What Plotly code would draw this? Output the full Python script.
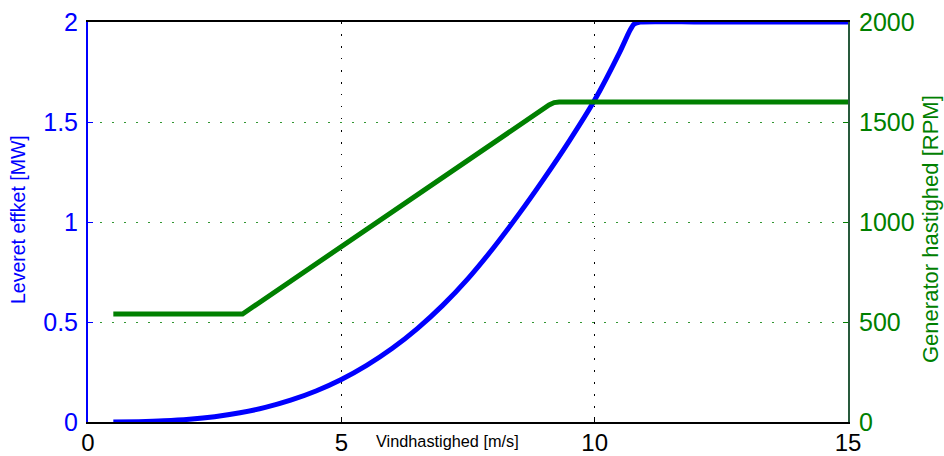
import plotly.graph_objects as go

wind_power = [0.5, 1, 1.5, 2, 2.5, 3, 3.5, 4, 4.5, 5, 5.5, 6, 6.5, 7, 7.5, 8, 8.5, 9, 9.5, 10, 10.5, 10.7, 10.78, 10.9, 12, 13, 14, 15]
power_mw = [0.0002, 0.0017, 0.0057, 0.0136, 0.0266, 0.046, 0.073, 0.109, 0.155, 0.2125, 0.283, 0.367, 0.467, 0.583, 0.717, 0.87, 1.038, 1.217, 1.406, 1.61, 1.852, 1.96, 1.99, 2.0, 2.0, 2.0, 2.0, 2.0]

wind_rpm = [0.5, 3.05, 9.1, 9.2, 9.3, 15]
rpm = [540, 540, 1585, 1597, 1600, 1600]

x_ticks = [0, 5, 10, 15]
y_ticks = [0, 0.5, 1, 1.5, 2]
y_ticktext = ["0", "0.5", "1", "1.5", "2"]
y2_ticks = [0, 500, 1000, 1500, 2000]

BLUE = "rgb(0,0,255)"
GREEN = "rgb(0,128,0)"
FONT = "Liberation Sans, Arial, sans-serif"

fig = go.Figure()
fig.add_trace(go.Scatter(x=wind_power, y=power_mw, mode="lines", line_shape="spline",
                         line=dict(color=BLUE, width=5, smoothing=0.6), showlegend=False, yaxis="y"))
fig.add_trace(go.Scatter(x=wind_rpm, y=rpm, mode="lines",
                         line=dict(color=GREEN, width=5), showlegend=False, yaxis="y2"))

fig.update_layout(
    width=944, height=456,
    margin=dict(l=88, r=96, t=22, b=34),
    plot_bgcolor="white", paper_bgcolor="white",
    font=dict(family=FONT),
    xaxis=dict(range=[0, 15], tickvals=x_ticks, ticks="inside", ticklen=5, tickcolor="black",
               showline=True, linecolor="black", linewidth=2, mirror=True,
               showgrid=True, gridcolor="black", griddash="1.5px,10.5px", gridwidth=1,
               zeroline=False, automargin=False, ticklabelstandoff=-2,
               tickfont=dict(size=24, color="black")),
    yaxis=dict(range=[0, 2], tickvals=y_ticks, ticktext=y_ticktext,
               ticks="inside", ticklen=5, tickcolor=BLUE, ticklabelstandoff=3,
               showline=True, linecolor=BLUE, linewidth=2,
               showgrid=False, zeroline=False, automargin=False,
               tickfont=dict(size=25, color=BLUE)),
    yaxis2=dict(range=[0, 2000], tickvals=y2_ticks, overlaying="y", side="right",
                ticks="inside", ticklen=5, tickcolor=GREEN, ticklabelstandoff=4,
                showline=True, linecolor="rgb(40,90,60)", linewidth=2,
                showgrid=True, gridcolor="rgb(50,150,50)", griddash="2px,10px", gridwidth=1,
                zeroline=False, automargin=False, tickfont=dict(size=25, color=GREEN)),
    annotations=[
        dict(text="Vindhastighed [m/s]", x=(447 - 88) / 760, y=0, xref="paper", yref="paper",
             xanchor="center", yanchor="middle", yshift=-19, showarrow=False,
             font=dict(size=16.3, color="black")),
        dict(text="Leveret effket [MW]", x=(18 - 88) / 760, y=(422 - 220) / 400,
             xref="paper", yref="paper", xanchor="center", yanchor="middle",
             textangle=-90, showarrow=False, font=dict(size=19.5, color=BLUE)),
        dict(text="Generator hastighed [RPM]", x=(930 - 88) / 760, y=(422 - 229) / 400,
             xref="paper", yref="paper", xanchor="center", yanchor="middle",
             textangle=-90, showarrow=False, font=dict(size=22, color=GREEN)),
    ],
)

fig.write_html("out.html")
